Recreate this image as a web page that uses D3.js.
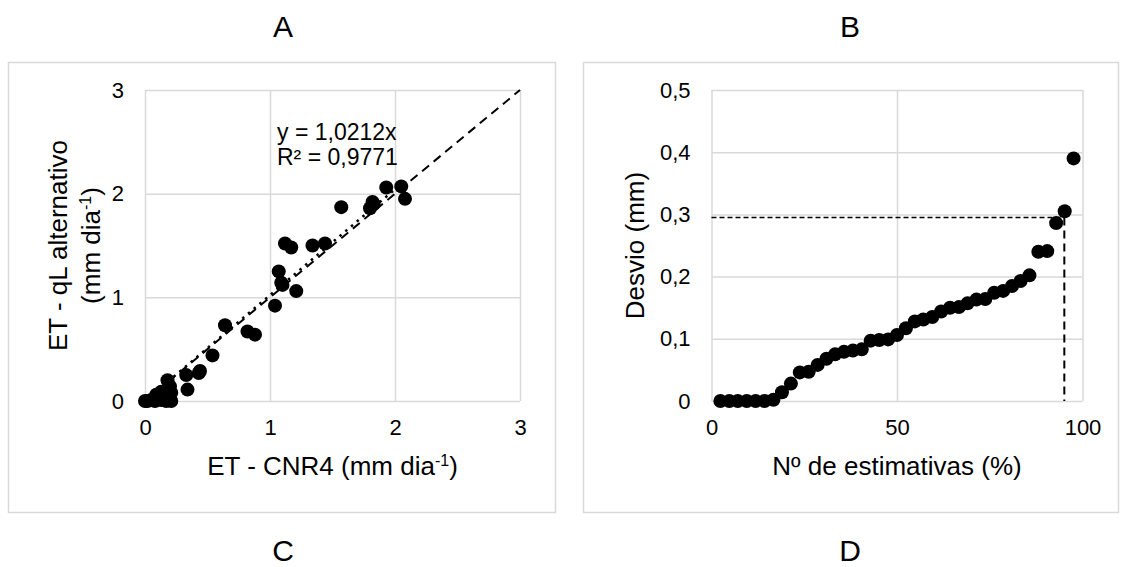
<!DOCTYPE html>
<html>
<head>
<meta charset="utf-8">
<script src="https://cdn.jsdelivr.net/npm/d3@7"></script>
<style>
  body { margin: 0; background: #fff; }
  svg { font-family: "Liberation Sans", Arial, sans-serif; }
</style>
</head>
<body>
<svg id="chart" width="1126" height="567"></svg>
<script>
// Panel A: ET CNR4 x ET qL alternativo (mm dia-1)
const etCnr4 = [0.00, 0.02, 0.05, 0.08, 0.10, 0.13, 0.15, 0.17, 0.19, 0.21, 0.09, 0.13, 0.21, 0.20, 0.18,
  0.34, 0.33, 0.43, 0.44, 0.54, 0.64, 0.82, 0.88, 1.04, 1.07, 1.09, 1.10, 1.21, 1.12, 1.17,
  1.34, 1.44, 1.57, 1.80, 1.83, 1.82, 1.93, 2.05, 2.08];
const etQl = [0.00, 0.00, 0.01, 0.00, 0.02, 0.01, 0.05, 0.00, 0.04, 0.00, 0.06, 0.09, 0.08, 0.14, 0.20,
  0.11, 0.25, 0.27, 0.29, 0.44, 0.73, 0.67, 0.64, 0.92, 1.25, 1.14, 1.12, 1.06, 1.52, 1.48,
  1.50, 1.52, 1.87, 1.86, 1.90, 1.92, 2.06, 2.07, 1.95];
const slopeA = 1.0212;
const trendText = ["y = 1,0212x", "R² = 0,9771"];
const ticksA = [0, 1, 2, 3];

// Panel B: desvio x Nº de estimativas (%)
const pctEstimativas = [2.4, 4.8, 7.1, 9.5, 11.9, 14.3, 16.7, 19.0, 21.4, 23.8, 26.2, 28.6, 31.0, 33.3,
  35.7, 38.1, 40.5, 42.9, 45.2, 47.6, 50.0, 52.4, 54.8, 57.1, 59.5, 61.9, 64.3, 66.7, 69.0,
  71.4, 73.8, 76.2, 78.6, 81.0, 83.3, 85.7, 88.1, 90.5, 92.9, 95.2, 97.6];
const desvio = [0, 0, 0, 0, 0, 0, 0.002, 0.014, 0.028, 0.046, 0.047, 0.058, 0.068, 0.075,
  0.079, 0.081, 0.083, 0.097, 0.098, 0.099, 0.106, 0.117, 0.128, 0.131, 0.135, 0.144, 0.150, 0.151, 0.157,
  0.163, 0.164, 0.174, 0.177, 0.185, 0.193, 0.202, 0.240, 0.241, 0.286, 0.305, 0.390];
const ticksBx = [0, 50, 100];
const ticksBy = [0, 0.1, 0.2, 0.3, 0.4, 0.5];
const limiteDesvio = 0.295;
const limitePct = 95.1;

const panelLetters = ["A", "B", "C", "D"];

const svg = d3.select("#chart");
const gridColor = "#d9d9d9";
const comma = d => String(d).replace(".", ",");

// Outer chart borders
svg.append("rect").attr("x", 8.5).attr("y", 62.5).attr("width", 547).attr("height", 450)
  .attr("fill", "none").attr("stroke", gridColor).attr("stroke-width", 1.5);
svg.append("rect").attr("x", 583.5).attr("y", 62.5).attr("width", 535).attr("height", 450)
  .attr("fill", "none").attr("stroke", gridColor).attr("stroke-width", 1.5);

// Panel letters
const letterPos = [[283, 37], [850, 37], [283, 561], [850, 561]];
svg.selectAll(".letter")
  .data(panelLetters)
  .enter()
  .append("text")
  .attr("class", "letter")
  .attr("x", (d, i) => letterPos[i][0])
  .attr("y", (d, i) => letterPos[i][1])
  .attr("text-anchor", "middle")
  .style("font-size", "30px")
  .text(d => d);

// Gridlines + tick labels for one plot
function drawAxes(g, x, y, xt, yt, w, h, fmt) {
  const yAxis = d3.axisLeft(y).tickValues(yt).tickSize(-w).tickPadding(21).tickFormat(fmt);
  g.append("g").call(yAxis)
    .call(s => s.select(".domain").remove())
    .call(s => s.selectAll("line").attr("stroke", gridColor).attr("stroke-width", 1.5))
    .call(s => s.selectAll("text").style("font-size", "22px").attr("fill", "#000"));
  const xAxis = d3.axisBottom(x).tickValues(xt).tickSize(-h).tickPadding(18).tickFormat(d => d);
  g.append("g").attr("transform", `translate(0,${h})`).call(xAxis)
    .call(s => s.select(".domain").remove())
    .call(s => s.selectAll("line").attr("stroke", gridColor).attr("stroke-width", 1.5))
    .call(s => s.selectAll("text").style("font-size", "22px").attr("fill", "#000"));
  g.selectAll("text").attr("font-family", null);
}

// ---------- Panel A ----------
const aLeft = 145, aTop = 90, aW = 375, aH = 311;
const gA = svg.append("g").attr("transform", `translate(${aLeft},${aTop})`);
const xA = d3.scaleLinear().domain([0, 3]).range([0, aW]);
const yA = d3.scaleLinear().domain([0, 3]).range([aH, 0]);
drawAxes(gA, xA, yA, ticksA, ticksA, aW, aH, d => d);

const line = (xs, ys) => d3.line().x(d => xs(d[0])).y(d => ys(d[1]));

// 1:1 line
gA.append("path")
  .attr("d", line(xA, yA)([[0, 0], [3, 3]]))
  .attr("fill", "none").attr("stroke", "#000").attr("stroke-width", 2)
  .attr("stroke-dasharray", "9,6");

// Linear trendline through origin
const maxX = d3.max(etCnr4);
gA.append("path")
  .attr("d", line(xA, yA)([[0, 0], [maxX, maxX * slopeA]]))
  .attr("fill", "none").attr("stroke", "#000").attr("stroke-width", 2.5)
  .attr("stroke-dasharray", "2.5,5");

gA.selectAll(".dotA")
  .data(etCnr4)
  .enter()
  .append("circle")
  .attr("class", "dotA")
  .attr("cx", d => xA(d))
  .attr("cy", (d, i) => yA(etQl[i]))
  .attr("r", 7)
  .attr("fill", "#000");

gA.selectAll(".trend")
  .data(trendText)
  .enter()
  .append("text")
  .attr("x", 132)
  .attr("y", (d, i) => 50 + i * 25)
  .style("font-size", "23px")
  .text(d => d);

// Axis titles A
svg.append("text")
  .attr("x", aLeft + aW / 2).attr("y", 475)
  .attr("text-anchor", "middle").style("font-size", "26px")
  .call(t => {
    t.append("tspan").text("ET - CNR4 (mm dia");
    t.append("tspan").attr("dy", -9).style("font-size", "16px").text("-1");
    t.append("tspan").attr("dy", 9).text(")");
  });
const yTitleA = svg.append("g").attr("transform", `translate(0,${aTop + aH / 2}) rotate(-90)`);
yTitleA.append("text").attr("x", 0).attr("y", 58).attr("dy", "0.35em")
  .attr("text-anchor", "middle").style("font-size", "26px").text("ET - qL alternativo");
yTitleA.append("text").attr("x", 0).attr("y", 91).attr("dy", "0.35em")
  .attr("text-anchor", "middle").style("font-size", "26px")
  .call(t => {
    t.append("tspan").text("(mm dia");
    t.append("tspan").attr("dy", -9).style("font-size", "16px").text("-1");
    t.append("tspan").attr("dy", 9).text(")");
  });

// ---------- Panel B ----------
const bLeft = 711.5, bTop = 90, bW = 371, bH = 311;
const gB = svg.append("g").attr("transform", `translate(${bLeft},${bTop})`);
const xB = d3.scaleLinear().domain([0, 100]).range([0, bW]);
const yB = d3.scaleLinear().domain([0, 0.5]).range([bH, 0]);
drawAxes(gB, xB, yB, ticksBx, ticksBy, bW, bH, comma);

// 95% reference lines
gB.append("path")
  .attr("d", line(xB, yB)([[0, limiteDesvio], [limitePct, limiteDesvio]]))
  .attr("fill", "none").attr("stroke", "#000").attr("stroke-width", 1.5)
  .attr("stroke-dasharray", "5,3");
gB.append("path")
  .attr("d", line(xB, yB)([[limitePct, limiteDesvio], [limitePct, 0]]))
  .attr("fill", "none").attr("stroke", "#000").attr("stroke-width", 2)
  .attr("stroke-dasharray", "8,5");

gB.selectAll(".dotB")
  .data(pctEstimativas)
  .enter()
  .append("circle")
  .attr("class", "dotB")
  .attr("cx", d => xB(d))
  .attr("cy", (d, i) => yB(desvio[i]))
  .attr("r", 7)
  .attr("fill", "#000");

// Axis titles B
svg.append("text")
  .attr("x", bLeft + bW / 2).attr("y", 475)
  .attr("text-anchor", "middle").style("font-size", "26px")
  .text("Nº de estimativas (%)");
svg.append("text")
  .attr("transform", `translate(635,${bTop + bH / 2}) rotate(-90)`)
  .attr("dy", "0.35em")
  .attr("text-anchor", "middle").style("font-size", "26px")
  .text("Desvio (mm)");
</script>
</body>
</html>
